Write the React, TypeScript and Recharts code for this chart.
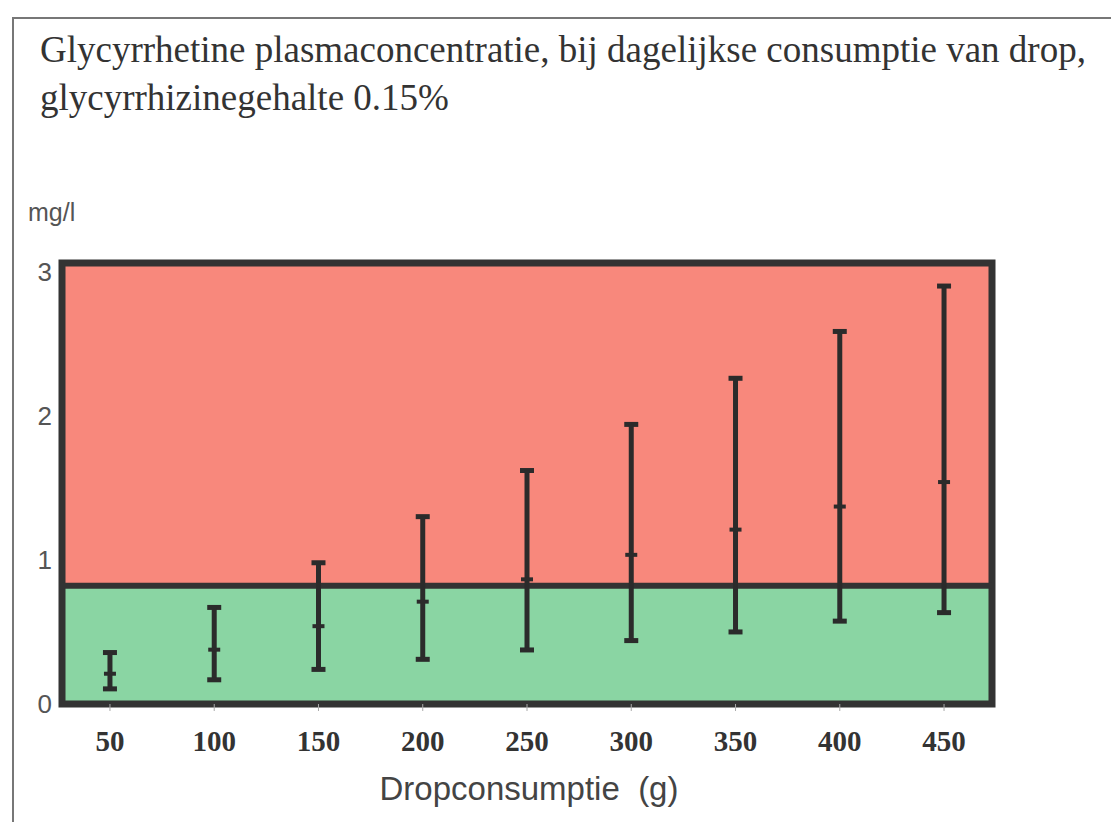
import {
  ComposedChart, Scatter, ErrorBar, XAxis, YAxis,
  ReferenceArea, ReferenceLine,
} from 'recharts'

// dropconsumptie in gram per dag
const doses = [50, 100, 150, 200, 250, 300, 350, 400, 450]
// glycyrrhetine in plasma (mg/l): ondergrens, gemiddelde, bovengrens
const lows = [0.105, 0.168, 0.24, 0.31, 0.375, 0.44, 0.5, 0.575, 0.634]
const mids = [0.21, 0.377, 0.54, 0.71, 0.865, 1.035, 1.21, 1.37, 1.54]
const highs = [0.357, 0.67, 0.98, 1.3, 1.62, 1.94, 2.26, 2.585, 2.9]

const yTicks = [0, 1, 2, 3]
const THRESHOLD = 0.82
const Y_MAX = 3.06
const X_MIN = 27
const X_MAX = 473

const data = doses.map((d, i) => ({
  dose: d,
  mean: mids[i],
  err: [mids[i] - lows[i], highs[i] - mids[i]],
}))

function MeanMark(props: any) {
  const { cx, cy } = props
  return <line x1={cx - 6} x2={cx + 6} y1={cy} y2={cy} stroke="#2b2b2b" strokeWidth={4} />
}

export default function App() {
  return (
    <div style={{ position: 'absolute', left: 0, top: 0, width: 1111, height: 822, background: '#fff' }}>
      <div style={{
        position: 'absolute', left: 12, top: 17, right: 0, bottom: 0,
        borderLeft: '2px solid #777', borderTop: '2px solid #777',
      }} />
      <div style={{
        position: 'absolute', left: 40, top: 26, width: 1070, whiteSpace: 'nowrap',
        fontFamily: '"Liberation Serif", serif', fontSize: 37, lineHeight: '48px', color: '#333',
      }}>
        Glycyrrhetine plasmaconcentratie, bij dagelijkse consumptie van drop,<br />
        glycyrrhizinegehalte 0.15%
      </div>
      <div style={{
        position: 'absolute', left: 28, top: 198,
        fontFamily: '"Liberation Sans", sans-serif', fontSize: 25, color: '#555',
      }}>
        mg/l
      </div>
      <div style={{
        position: 'absolute', left: 279, width: 500, top: 770, textAlign: 'center', whiteSpace: 'pre',
        fontFamily: '"Liberation Sans", sans-serif', fontSize: 33, color: '#444',
      }}>
        Dropconsumptie  (g)
      </div>
      <div style={{ position: 'absolute', left: 0, top: 0 }}>
        <ComposedChart width={1111} height={822} data={data} margin={{ top: 263, right: 119, bottom: 0, left: 0 }}>
          <XAxis
            type="number"
            dataKey="dose"
            domain={[X_MIN, X_MAX]}
            ticks={doses}
            axisLine={false}
            tickLine={{ stroke: '#aaa', strokeWidth: 1 }}
            tickSize={7}
            tickMargin={19}
            height={118}
            tick={{ fill: '#333', fontSize: 29, fontWeight: 'bold', fontFamily: '"Liberation Serif", serif' }}
          />
          <YAxis
            type="number"
            domain={[0, Y_MAX]}
            ticks={yTicks}
            axisLine={false}
            tickLine={false}
            tickSize={8}
            tickMargin={2}
            width={62}
            tick={{ fill: '#555', fontSize: 26, fontFamily: '"Liberation Sans", sans-serif' }}
          />
          <ReferenceArea x1={X_MIN} x2={X_MAX} y1={0} y2={THRESHOLD} fill="#8ad5a3" fillOpacity={1} stroke="none" />
          <ReferenceArea x1={X_MIN} x2={X_MAX} y1={THRESHOLD} y2={Y_MAX} fill="#f8887c" fillOpacity={1} stroke="none" />
          <ReferenceArea x1={X_MIN} x2={X_MAX} y1={0} y2={Y_MAX} fill="none" stroke="#333" strokeWidth={7} />
          <ReferenceLine y={THRESHOLD} stroke="#333" strokeWidth={6} />
          <Scatter dataKey="mean" shape={<MeanMark />} isAnimationActive={false}>
            <ErrorBar dataKey="err" direction="y" width={7} stroke="#2b2b2b" strokeWidth={5} />
          </Scatter>
        </ComposedChart>
      </div>
    </div>
  )
}
